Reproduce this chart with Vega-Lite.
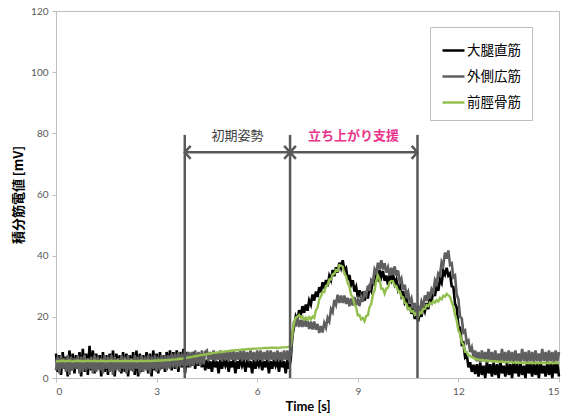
{
  "$schema": "https://vega.github.io/schema/vega-lite/v6.json",
  "width": 503,
  "height": 367,
  "autosize": {"type": "none"},
  "padding": {"left": 56, "top": 11, "right": 10, "bottom": 41},
  "background": "white",
  "config": {
    "view": {"stroke": "#BFBFBF", "strokeWidth": 1},
    "font": "Lato"
  },
  "datasets": {
    "emg": [
      {"t":0.00,"a":8.0,"b":2.5,"c":5.5},{"t":0.05,"a":2.0,"b":7.0,"c":5.4},{"t":0.10,"a":7.5,"b":1.5,"c":5.6},{"t":0.15,"a":1.0,"b":7.5,"c":5.5},
      {"t":0.20,"a":8.5,"b":3.0,"c":5.7},{"t":0.25,"a":3.0,"b":6.5,"c":5.4},{"t":0.30,"a":7.0,"b":2.0,"c":5.6},{"t":0.35,"a":0.5,"b":7.5,"c":5.5},
      {"t":0.40,"a":9.0,"b":1.0,"c":5.7},{"t":0.45,"a":2.5,"b":7.0,"c":5.5},{"t":0.50,"a":8.0,"b":2.5,"c":5.4},{"t":0.55,"a":1.5,"b":6.5,"c":5.6},
      {"t":0.60,"a":7.5,"b":3.0,"c":5.5},{"t":0.65,"a":3.0,"b":7.5,"c":5.7},{"t":0.70,"a":8.5,"b":1.5,"c":5.5},{"t":0.75,"a":0.5,"b":7.0,"c":5.6},
      {"t":0.80,"a":9.5,"b":2.0,"c":5.4},{"t":0.85,"a":2.0,"b":7.5,"c":5.6},{"t":0.90,"a":8.0,"b":2.5,"c":5.5},{"t":0.95,"a":1.0,"b":6.5,"c":5.7},
      {"t":1.00,"a":10.5,"b":3.0,"c":5.5},{"t":1.05,"a":2.5,"b":7.0,"c":5.6},{"t":1.10,"a":9.0,"b":1.5,"c":5.5},{"t":1.15,"a":1.5,"b":7.5,"c":5.7},
      {"t":1.20,"a":8.0,"b":2.0,"c":5.4},{"t":1.25,"a":3.0,"b":7.0,"c":5.6},{"t":1.30,"a":7.5,"b":2.5,"c":5.5},{"t":1.35,"a":0.5,"b":6.5,"c":5.7},
      {"t":1.40,"a":8.5,"b":1.5,"c":5.5},{"t":1.45,"a":2.0,"b":7.5,"c":5.6},{"t":1.50,"a":7.5,"b":3.0,"c":5.4},{"t":1.55,"a":1.0,"b":7.0,"c":5.6},
      {"t":1.60,"a":8.0,"b":2.0,"c":5.5},{"t":1.65,"a":2.5,"b":7.5,"c":5.7},{"t":1.70,"a":9.0,"b":1.0,"c":5.5},{"t":1.75,"a":0.5,"b":7.0,"c":5.6},
      {"t":1.80,"a":8.0,"b":2.5,"c":5.5},{"t":1.85,"a":3.0,"b":6.5,"c":5.7},{"t":1.90,"a":7.5,"b":2.0,"c":5.4},{"t":1.95,"a":1.5,"b":7.5,"c":5.6},
      {"t":2.00,"a":8.5,"b":3.0,"c":5.5},{"t":2.05,"a":2.0,"b":7.0,"c":5.7},{"t":2.10,"a":8.0,"b":1.5,"c":5.5},{"t":2.15,"a":0.5,"b":7.5,"c":5.6},
      {"t":2.20,"a":7.5,"b":2.5,"c":5.5},{"t":2.25,"a":2.5,"b":6.5,"c":5.7},{"t":2.30,"a":8.5,"b":2.0,"c":5.5},{"t":2.35,"a":1.0,"b":7.5,"c":5.6},
      {"t":2.40,"a":9.0,"b":3.0,"c":5.4},{"t":2.45,"a":0.5,"b":7.0,"c":5.6},{"t":2.50,"a":8.0,"b":1.5,"c":5.5},{"t":2.55,"a":2.0,"b":7.5,"c":5.7},
      {"t":2.60,"a":7.5,"b":2.0,"c":5.5},{"t":2.65,"a":3.0,"b":7.0,"c":5.6},{"t":2.70,"a":8.5,"b":2.5,"c":5.5},{"t":2.75,"a":1.5,"b":7.5,"c":5.7},
      {"t":2.80,"a":8.0,"b":1.5,"c":5.5},{"t":2.85,"a":0.5,"b":7.0,"c":5.6},{"t":2.90,"a":9.0,"b":3.0,"c":5.6},{"t":2.95,"a":2.5,"b":7.5,"c":5.7},
      {"t":3.00,"a":8.0,"b":2.0,"c":5.6},{"t":3.05,"a":1.5,"b":7.0,"c":5.8},{"t":3.10,"a":8.5,"b":2.5,"c":5.7},{"t":3.15,"a":3.0,"b":7.5,"c":5.8},
      {"t":3.20,"a":7.5,"b":3.0,"c":5.7},{"t":3.25,"a":2.0,"b":7.5,"c":5.9},{"t":3.30,"a":8.5,"b":2.5,"c":5.8},{"t":3.35,"a":3.5,"b":7.5,"c":5.9},
      {"t":3.40,"a":9.0,"b":3.0,"c":5.9},{"t":3.45,"a":2.5,"b":8.0,"c":6.0},{"t":3.50,"a":8.5,"b":3.5,"c":6.0},{"t":3.55,"a":3.0,"b":8.0,"c":6.1},
      {"t":3.60,"a":9.0,"b":3.0,"c":6.1},{"t":3.65,"a":2.0,"b":8.5,"c":6.2},{"t":3.70,"a":8.5,"b":3.5,"c":6.3},{"t":3.75,"a":3.5,"b":8.0,"c":6.3},
      {"t":3.80,"a":9.5,"b":4.0,"c":6.4},{"t":3.85,"a":1.5,"b":8.5,"c":6.5},
      {"t":3.90,"a":8.5,"b":4.0,"c":6.6},{"t":3.95,"a":3.5,"b":8.5,"c":6.7},{"t":4.00,"a":8.0,"b":3.5,"c":6.8},{"t":4.05,"a":4.0,"b":8.5,"c":6.9},
      {"t":4.10,"a":8.5,"b":4.0,"c":7.0},{"t":4.15,"a":3.0,"b":9.0,"c":7.1},{"t":4.20,"a":7.5,"b":4.5,"c":7.2},{"t":4.25,"a":4.0,"b":8.5,"c":7.3},
      {"t":4.30,"a":7.0,"b":4.0,"c":7.4},{"t":4.35,"a":3.5,"b":9.0,"c":7.5},{"t":4.40,"a":6.5,"b":4.5,"c":7.6},{"t":4.45,"a":2.5,"b":8.5,"c":7.7},
      {"t":4.50,"a":6.0,"b":9.0,"c":7.8},{"t":4.55,"a":3.0,"b":5.5,"c":7.9},{"t":4.60,"a":5.5,"b":8.5,"c":8.0},{"t":4.65,"a":2.0,"b":6.0,"c":8.1},
      {"t":4.70,"a":6.0,"b":9.0,"c":8.2},{"t":4.75,"a":3.5,"b":5.5,"c":8.2},{"t":4.80,"a":5.5,"b":8.5,"c":8.3},{"t":4.85,"a":1.5,"b":6.0,"c":8.4},
      {"t":4.90,"a":6.0,"b":9.0,"c":8.5},{"t":4.95,"a":3.0,"b":5.5,"c":8.5},{"t":5.00,"a":5.5,"b":8.5,"c":8.6},{"t":5.05,"a":4.0,"b":6.0,"c":8.7},
      {"t":5.10,"a":6.0,"b":9.0,"c":8.8},{"t":5.15,"a":2.0,"b":5.5,"c":8.8},{"t":5.20,"a":5.5,"b":8.5,"c":8.9},{"t":5.25,"a":3.5,"b":6.0,"c":9.0},
      {"t":5.30,"a":6.0,"b":9.0,"c":9.0},{"t":5.35,"a":1.5,"b":5.5,"c":9.1},{"t":5.40,"a":5.5,"b":8.5,"c":9.1},{"t":5.45,"a":3.0,"b":6.0,"c":9.2},
      {"t":5.50,"a":6.5,"b":9.0,"c":9.2},{"t":5.55,"a":4.0,"b":5.5,"c":9.3},{"t":5.60,"a":5.5,"b":9.0,"c":9.3},{"t":5.65,"a":2.0,"b":6.0,"c":9.4},
      {"t":5.70,"a":6.0,"b":8.5,"c":9.4},{"t":5.75,"a":3.5,"b":5.5,"c":9.5},{"t":5.80,"a":5.5,"b":9.0,"c":9.5},{"t":5.85,"a":1.5,"b":6.0,"c":9.5},
      {"t":5.90,"a":6.0,"b":8.5,"c":9.6},{"t":5.95,"a":3.0,"b":5.5,"c":9.6},{"t":6.00,"a":5.5,"b":9.0,"c":9.6},{"t":6.05,"a":4.0,"b":6.0,"c":9.7},
      {"t":6.10,"a":6.0,"b":9.0,"c":9.7},{"t":6.15,"a":2.5,"b":5.5,"c":9.7},{"t":6.20,"a":5.5,"b":8.5,"c":9.8},{"t":6.25,"a":3.5,"b":6.0,"c":9.8},
      {"t":6.30,"a":6.0,"b":9.0,"c":9.8},{"t":6.35,"a":1.5,"b":5.5,"c":9.8},{"t":6.40,"a":5.5,"b":9.0,"c":9.9},{"t":6.45,"a":3.0,"b":6.0,"c":9.9},
      {"t":6.50,"a":6.0,"b":8.5,"c":9.9},{"t":6.55,"a":4.0,"b":5.5,"c":9.9},{"t":6.60,"a":5.5,"b":9.0,"c":9.8},{"t":6.65,"a":2.0,"b":6.0,"c":9.9},
      {"t":6.70,"a":6.0,"b":8.5,"c":9.9},{"t":6.75,"a":3.5,"b":5.5,"c":10.0},{"t":6.80,"a":5.5,"b":9.0,"c":10.0},{"t":6.85,"a":1.5,"b":6.0,"c":10.0},
      {"t":6.90,"a":6.0,"b":9.0,"c":10.1},{"t":6.95,"a":3.0,"b":5.5,"c":10.2},{"t":7.00,"a":6.0,"b":8.0,"c":10.5},
      {"t":7.05,"a":14.0,"b":14.0,"c":15.0},{"t":7.10,"a":16.8,"b":18.5,"c":18.1},{"t":7.15,"a":20.2,"b":16.8,"c":19.8},{"t":7.20,"a":19.0,"b":19.7,"c":20.0},
      {"t":7.25,"a":22.2,"b":16.7,"c":20.6},{"t":7.30,"a":20.5,"b":19.0,"c":19.7},{"t":7.35,"a":23.5,"b":16.7,"c":20.1},{"t":7.40,"a":21.3,"b":19.5,"c":19.1},
      {"t":7.45,"a":24.0,"b":16.8,"c":19.8},{"t":7.50,"a":22.0,"b":18.7,"c":19.0},{"t":7.55,"a":25.4,"b":16.0,"c":19.9},{"t":7.60,"a":24.0,"b":18.5,"c":19.2},
      {"t":7.65,"a":27.3,"b":15.9,"c":20.1},{"t":7.70,"a":25.3,"b":18.5,"c":19.6},{"t":7.75,"a":28.2,"b":15.8,"c":22.1},{"t":7.80,"a":26.5,"b":17.7,"c":23.0},
      {"t":7.85,"a":29.7,"b":14.7,"c":25.7},{"t":7.90,"a":28.0,"b":17.0,"c":26.7},{"t":7.95,"a":31.3,"b":14.9,"c":28.2},{"t":8.00,"a":29.3,"b":18.0,"c":28.1},
      {"t":8.05,"a":32.0,"b":16.5,"c":30.1},{"t":8.10,"a":30.0,"b":19.7,"c":30.5},{"t":8.15,"a":33.4,"b":18.5,"c":32.2},{"t":8.20,"a":32.0,"b":22.5,"c":32.2},
      {"t":8.25,"a":35.3,"b":21.5,"c":33.9},{"t":8.30,"a":33.3,"b":25.5,"c":34.1},{"t":8.35,"a":36.2,"b":24.0,"c":35.3},{"t":8.40,"a":34.5,"b":27.2,"c":35.0},
      {"t":8.45,"a":37.7,"b":24.5,"c":36.9},{"t":8.50,"a":36.0,"b":27.0,"c":36.7},{"t":8.55,"a":38.5,"b":24.5,"c":36.4},{"t":8.60,"a":35.3,"b":27.0,"c":34.1},
      {"t":8.65,"a":36.0,"b":24.2,"c":33.3},{"t":8.70,"a":32.0,"b":26.2,"c":31.0},{"t":8.75,"a":33.7,"b":23.5,"c":29.9},{"t":8.80,"a":30.5,"b":26.0,"c":27.2},
      {"t":8.85,"a":32.0,"b":23.7,"c":26.4},{"t":8.90,"a":28.3,"b":26.5,"c":24.1},{"t":8.95,"a":29.8,"b":23.8,"c":23.1},{"t":9.00,"a":26.5,"b":25.7,"c":20.5},
      {"t":9.05,"a":28.7,"b":23.5,"c":20.6},{"t":9.10,"a":26.0,"b":26.5,"c":19.2},{"t":9.15,"a":28.3,"b":24.9,"c":19.6},{"t":9.20,"a":25.3,"b":28.5,"c":18.6},
      {"t":9.25,"a":28.0,"b":27.0,"c":20.3},{"t":9.30,"a":26.0,"b":30.2,"c":20.5},{"t":9.35,"a":29.7,"b":28.5,"c":23.2},{"t":9.40,"a":28.5,"b":32.0,"c":24.2},
      {"t":9.45,"a":32.0,"b":31.2,"c":27.2},{"t":9.50,"a":30.3,"b":35.5,"c":28.6},{"t":9.55,"a":33.8,"b":34.2,"c":31.8},{"t":9.60,"a":32.5,"b":37.7,"c":33.5},
      {"t":9.65,"a":35.2,"b":35.5,"c":32.2},{"t":9.70,"a":33.0,"b":38.5,"c":29.2},{"t":9.75,"a":35.0,"b":35.5,"c":29.2},{"t":9.80,"a":31.8,"b":37.5,"c":27.6},
      {"t":9.85,"a":33.5,"b":34.5,"c":29.3},{"t":9.90,"a":30.5,"b":36.2,"c":29.5},{"t":9.95,"a":33.7,"b":33.5,"c":31.4},{"t":10.00,"a":32.0,"b":36.0,"c":31.7},
      {"t":10.05,"a":34.0,"b":33.7,"c":31.6},{"t":10.10,"a":30.8,"b":36.5,"c":30.1},{"t":10.15,"a":32.2,"b":33.5,"c":30.1},{"t":10.20,"a":29.0,"b":35.2,"c":28.5},
      {"t":10.25,"a":30.4,"b":31.3,"c":28.4},{"t":10.30,"a":27.0,"b":32.5,"c":26.7},{"t":10.35,"a":28.5,"b":28.9,"c":26.4},{"t":10.40,"a":24.8,"b":30.5,"c":24.6},
      {"t":10.45,"a":26.0,"b":27.0,"c":24.3},{"t":10.50,"a":22.5,"b":28.2,"c":22.5},{"t":10.55,"a":24.2,"b":24.5,"c":22.9},{"t":10.60,"a":21.0,"b":26.0,"c":21.7},
      {"t":10.65,"a":22.7,"b":22.7,"c":21.9},{"t":10.70,"a":19.3,"b":24.5,"c":20.6},{"t":10.75,"a":21.2,"b":21.5,"c":21.1},{"t":10.80,"a":18.5,"b":23.2,"c":20.0},
      {"t":10.85,"a":21.7,"b":21.5,"c":21.4},{"t":10.90,"a":20.0,"b":25.0,"c":21.2},{"t":10.95,"a":23.5,"b":23.5,"c":22.6},{"t":11.00,"a":21.8,"b":27.0,"c":22.6},
      {"t":11.05,"a":24.5,"b":25.2,"c":23.8},{"t":11.10,"a":22.5,"b":28.2,"c":23.5},{"t":11.15,"a":26.2,"b":26.0,"c":24.6},{"t":11.20,"a":25.0,"b":29.0,"c":24.2},
      {"t":11.25,"a":28.5,"b":27.9,"c":25.2},{"t":11.30,"a":26.8,"b":32.0,"c":24.6},{"t":11.35,"a":30.0,"b":30.8,"c":25.5},{"t":11.40,"a":28.5,"b":34.2,"c":25.0},
      {"t":11.45,"a":32.2,"b":33.5,"c":26.2},{"t":11.50,"a":31.0,"b":38.0,"c":25.7},{"t":11.55,"a":35.0,"b":36.9,"c":26.9},{"t":11.60,"a":33.8,"b":41.0,"c":26.6},
      {"t":11.65,"a":36.0,"b":39.0,"c":27.5},{"t":11.70,"a":33.5,"b":41.7,"c":27.0},{"t":11.75,"a":34.2,"b":37.0,"c":26.6},{"t":11.80,"a":30.0,"b":37.5,"c":24.7},
      {"t":11.85,"a":29.7,"b":32.9,"c":23.4},{"t":11.90,"a":24.3,"b":33.5,"c":20.6},{"t":11.95,"a":23.0,"b":27.2,"c":18.8},{"t":12.00,"a":17.0,"b":25.7,"c":15.5},
      {"t":12.05,"a":16.4,"b":20.0,"c":14.4},{"t":12.10,"a":11.0,"b":19.5,"c":11.7},{"t":12.15,"a":11.5,"b":14.9,"c":10.9},{"t":12.20,"a":6.8,"b":15.5,"c":8.6},
      {"t":12.25,"a":7.5,"b":11.5,"c":8.5},{"t":12.30,"a":3.5,"b":12.2,"c":7.2},{"t":12.35,"a":5.2,"b":8.5,"c":7.3},{"t":12.40,"a":2.0,"b":10.0,"c":6.7},
      {"t":12.45,"a":4.3,"b":6.9,"c":6.6},{"t":12.50,"a":1.3,"b":9.0,"c":6.2},
      {"t":12.55,"a":4.5,"b":5.5,"c":6.1},{"t":12.60,"a":0.5,"b":8.5,"c":6.0},{"t":12.65,"a":5.0,"b":5.0,"c":5.9},{"t":12.70,"a":1.0,"b":9.0,"c":5.9},
      {"t":12.75,"a":4.0,"b":5.5,"c":5.8},{"t":12.80,"a":0.0,"b":8.5,"c":5.7},{"t":12.85,"a":5.5,"b":5.0,"c":5.7},{"t":12.90,"a":1.5,"b":9.5,"c":5.6},
      {"t":12.95,"a":4.5,"b":5.5,"c":5.6},{"t":13.00,"a":0.5,"b":8.5,"c":5.5},{"t":13.05,"a":5.0,"b":5.0,"c":5.5},{"t":13.10,"a":1.0,"b":9.0,"c":5.4},
      {"t":13.15,"a":4.5,"b":5.5,"c":5.4},{"t":13.20,"a":0.0,"b":8.0,"c":5.3},{"t":13.25,"a":5.5,"b":5.0,"c":5.3},{"t":13.30,"a":1.5,"b":9.5,"c":5.3},
      {"t":13.35,"a":4.0,"b":5.5,"c":5.2},{"t":13.40,"a":0.5,"b":8.5,"c":5.2},{"t":13.45,"a":5.0,"b":5.0,"c":5.2},{"t":13.50,"a":1.0,"b":9.0,"c":5.1},
      {"t":13.55,"a":4.5,"b":5.5,"c":5.1},{"t":13.60,"a":0.0,"b":8.5,"c":5.1},{"t":13.65,"a":5.5,"b":5.0,"c":5.0},{"t":13.70,"a":1.5,"b":9.0,"c":5.1},
      {"t":13.75,"a":4.5,"b":5.5,"c":5.0},{"t":13.80,"a":0.5,"b":8.0,"c":5.0},{"t":13.85,"a":5.0,"b":5.0,"c":5.0},{"t":13.90,"a":1.0,"b":9.5,"c":5.0},
      {"t":13.95,"a":4.0,"b":5.5,"c":4.9},{"t":14.00,"a":0.0,"b":8.5,"c":5.0},{"t":14.05,"a":5.5,"b":5.0,"c":4.9},{"t":14.10,"a":1.5,"b":9.0,"c":5.0},
      {"t":14.15,"a":4.5,"b":5.5,"c":4.9},{"t":14.20,"a":0.5,"b":8.5,"c":5.0},{"t":14.25,"a":5.0,"b":5.0,"c":4.9},{"t":14.30,"a":1.0,"b":9.0,"c":5.0},
      {"t":14.35,"a":4.5,"b":5.5,"c":4.9},{"t":14.40,"a":0.0,"b":8.0,"c":4.9},{"t":14.45,"a":5.5,"b":5.0,"c":5.0},{"t":14.50,"a":1.5,"b":9.5,"c":4.9},
      {"t":14.55,"a":4.0,"b":5.5,"c":4.9},{"t":14.60,"a":0.5,"b":8.5,"c":5.0},{"t":14.65,"a":5.0,"b":5.0,"c":4.9},{"t":14.70,"a":1.0,"b":9.0,"c":4.9},
      {"t":14.75,"a":4.5,"b":5.5,"c":5.0},{"t":14.80,"a":0.0,"b":8.5,"c":4.9},{"t":14.85,"a":5.5,"b":5.0,"c":4.9},{"t":14.90,"a":1.5,"b":9.0,"c":5.0},
      {"t":14.95,"a":4.5,"b":5.5,"c":4.9},{"t":15.00,"a":0.5,"b":8.5,"c":4.9}
    ],
    "phaseLines": [
      {"t": 3.84, "v": 0, "v2": 79.5},
      {"t": 6.98, "v": 0, "v2": 79.5},
      {"t": 10.78, "v": 0, "v2": 79.5}
    ],
    "spans": [
      {"t": 3.84, "t2": 6.98, "v": 73.8},
      {"t": 6.98, "t2": 10.78, "v": 73.8}
    ],
    "heads": [
      {"t": 3.84, "v": 73.8, "dir": "left"},
      {"t": 6.98, "v": 73.8, "dir": "right"},
      {"t": 6.98, "v": 73.8, "dir": "left"},
      {"t": 10.78, "v": 73.8, "dir": "right"}
    ],
    "phaseLabels": [
      {"t": 5.41, "v": 79.2, "label": "初期姿勢", "kind": "rest"},
      {"t": 8.87, "v": 79.2, "label": "立ち上がり支援", "kind": "assist"}
    ]
  },
  "encoding": {
    "x": {
      "field": "t",
      "type": "quantitative",
      "scale": {"domain": [0, 15], "nice": false, "zero": false},
      "axis": {
        "title": "Time [s]",
        "values": [0, 3, 6, 9, 12, 15],
        "grid": false,
        "domainColor": "#BFBFBF",
        "tickColor": "#BFBFBF",
        "tickSize": 4,
        "labelColor": "#595959",
        "labelFont": "Lato",
        "labelFontSize": 10,
        "labelPadding": 4,
        "titleFont": "Lato",
        "titleFontSize": 13,
        "titleFontWeight": "bold",
        "titleColor": "#000000",
        "titlePadding": 4
      }
    },
    "y": {
      "field": "v",
      "type": "quantitative",
      "scale": {"domain": [0, 120], "nice": false},
      "axis": {
        "title": "積分筋電値 [mV]",
        "values": [0, 20, 40, 60, 80, 100, 120],
        "grid": false,
        "domainColor": "#BFBFBF",
        "tickColor": "#BFBFBF",
        "tickSize": 4,
        "labelColor": "#595959",
        "labelFont": "Lato",
        "labelFontSize": 10,
        "labelPadding": 4,
        "titleFont": "Noto Sans CJK JP",
        "titleFontSize": 13,
        "titleFontWeight": "bold",
        "titleColor": "#000000",
        "titlePadding": 5
      }
    }
  },
  "layer": [
    {
      "data": {"name": "emg"},
      "transform": [{"fold": ["a", "b", "c"], "as": ["k", "v"]}],
      "encoding": {
        "color": {
          "field": "k",
          "type": "nominal",
          "scale": {"domain": ["a", "b", "c"], "range": ["#000000", "#5F5F5F", "#92BF4E"]},
          "legend": {
            "title": null,
            "orient": "none",
            "legendX": 374,
            "legendY": 16,
            "labelExpr": "{'a': '大腿直筋', 'b': '外側広筋', 'c': '前脛骨筋'}[datum.value]",
            "labelFont": "Noto Sans CJK JP",
            "labelFontSize": 13.5,
            "labelColor": "#000000",
            "labelOffset": 1,
            "symbolType": "stroke",
            "symbolSize": 484,
            "symbolStrokeWidth": 2.5,
            "rowPadding": 7,
            "padding": 11,
            "strokeColor": "#BFBFBF",
            "fillColor": "#FFFFFF",
            "cornerRadius": 0
          }
        }
      },
      "layer": [
        {"transform": [{"filter": "datum.k === 'a'"}], "mark": {"type": "line", "strokeWidth": 2.6, "interpolate": "linear"}},
        {"transform": [{"filter": "datum.k === 'b'"}], "mark": {"type": "line", "strokeWidth": 2.6, "interpolate": "linear"}},
        {"transform": [{"filter": "datum.k === 'c'"}], "mark": {"type": "line", "strokeWidth": 2.4, "interpolate": "linear"}}
      ]
    },
    {
      "data": {"name": "phaseLines"},
      "mark": {"type": "rule", "color": "#595959", "strokeWidth": 2.5},
      "encoding": {"y2": {"field": "v2"}}
    },
    {
      "data": {"name": "spans"},
      "mark": {"type": "rule", "color": "#595959", "strokeWidth": 2.5},
      "encoding": {"x2": {"field": "t2"}}
    },
    {
      "data": {"name": "heads"},
      "transform": [{"filter": "datum.dir === 'right'"}],
      "mark": {"type": "point", "shape": "M-0.9,-1L0,0L-0.9,1", "filled": false, "stroke": "#595959", "strokeWidth": 2.5, "size": 169, "opacity": 1}
    },
    {
      "data": {"name": "heads"},
      "transform": [{"filter": "datum.dir === 'left'"}],
      "mark": {"type": "point", "shape": "M0.9,-1L0,0L0.9,1", "filled": false, "stroke": "#595959", "strokeWidth": 2.5, "size": 169, "opacity": 1}
    },
    {
      "data": {"name": "phaseLabels"},
      "transform": [{"filter": "datum.kind === 'rest'"}],
      "mark": {"type": "text", "font": "Noto Sans CJK JP", "fontSize": 13, "color": "#404040", "baseline": "middle", "align": "center"},
      "encoding": {"text": {"field": "label"}}
    },
    {
      "data": {"name": "phaseLabels"},
      "transform": [{"filter": "datum.kind === 'assist'"}],
      "mark": {"type": "text", "font": "Noto Sans CJK JP", "fontSize": 13, "fontWeight": "bold", "color": "#E8338B", "baseline": "middle", "align": "center"},
      "encoding": {"text": {"field": "label"}}
    }
  ]
}
